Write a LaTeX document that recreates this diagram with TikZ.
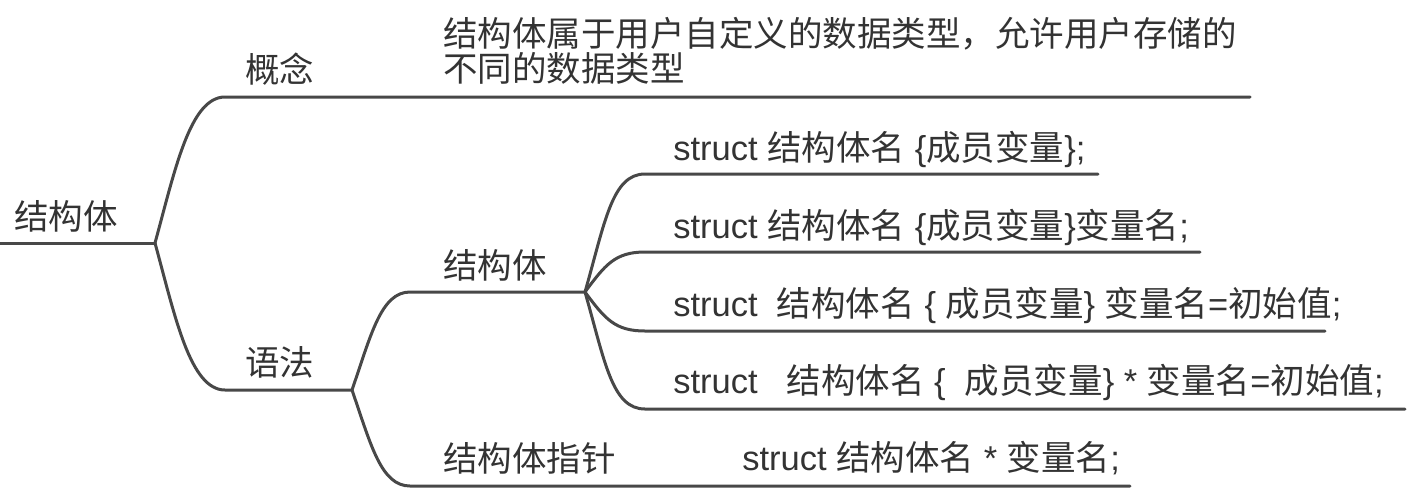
\documentclass[tikz,border=0pt]{standalone}
\usepackage{fontspec}
\setmainfont{Liberation Sans}
\newfontfamily\cjk{Noto Sans CJK SC}
\newcommand\zh[1]{{\cjk #1}}
\definecolor{linec}{RGB}{72,72,72}
\definecolor{textc}{RGB}{51,51,51}
\tikzset{
  branch/.style={draw=linec, line width=1.5pt, line cap=round},
  label/.style={anchor=base west, inner sep=0pt, text=textc, font=\fontsize{17.25}{17.75}\selectfont},
}
\begin{document}
\begin{tikzpicture}[x=0.5pt,y=-0.5pt]
\useasboundingbox (0,0) rectangle (1410,500);
% anchor points of the topics
\coordinate (R0) at (0,243);
\coordinate (R) at (155,243);
\coordinate (Gs) at (225,97);
\coordinate (Ge) at (1250,97);
\coordinate (Ys) at (225,390);
\coordinate (Y) at (352,390);
\coordinate (Js) at (410,292);
\coordinate (J) at (585,292);
\coordinate (Ps) at (410,486);
\coordinate (Pe) at (1130,486);
\coordinate (S1s) at (645,174);
\coordinate (S1e) at (1098,174);
\coordinate (S2s) at (645,252);
\coordinate (S2e) at (1200,252);
\coordinate (S3s) at (645,331);
\coordinate (S3e) at (1325,331);
\coordinate (S4s) at (645,409);
\coordinate (S4e) at (1405,409);

% labels
\node[label] (root) at (14,229.5) {\zh{结构体}};
\node[label] (gn) at (245,82.5) {\zh{概念}};
\node[label, align=left] (def) at (443,81.5) {\zh{结构体属于用户自定义的数据类型，允许用户存储的}\\\zh{不同的数据类型}};
\node[label] (yf) at (245,375) {\zh{语法}};
\node[label] (jgt) at (443,278) {\zh{结构体}};
\node[label] (zz) at (443,471) {\zh{结构体指针}};
\node[label] (s1) at (673,160) {struct \zh{结构体名} \{\zh{成员变量}\};};
\node[label] (s2) at (673,238) {struct \zh{结构体名} \{\zh{成员变量}\}\zh{变量名};};
\node[label] (s3) at (673,316) {struct\ \ \zh{结构体名} \{ \zh{成员变量}\} \zh{变量名}=\zh{初始值};};
\node[label] (s4) at (673,393) {struct\ \ \ \zh{结构体名} \{\ \ \zh{成员变量}\} * \zh{变量名}=\zh{初始值};};
\node[label] (p1) at (742,470) {struct \zh{结构体名} * \zh{变量名};};

% connectors
\draw[branch] (R0) -- (R);
\draw[branch] (R) .. controls (175,170) and (190,97) .. (Gs) -- (Ge);
\draw[branch] (R) .. controls (175,316) and (190,390) .. (Ys) -- (Y);
\draw[branch] (Y) .. controls (371,335) and (381,292) .. (Js) -- (J);
\draw[branch] (Y) .. controls (371,445) and (381,486) .. (Ps) -- (Pe);
\draw[branch] (J) .. controls (605,222) and (612,174) .. (S1s) -- (S1e);
\draw[branch] (J) .. controls (605,265) and (615,252) .. (S2s) -- (S2e);
\draw[branch] (J) .. controls (605,319) and (615,331) .. (S3s) -- (S3e);
\draw[branch] (J) .. controls (605,362) and (612,409) .. (S4s) -- (S4e);
\end{tikzpicture}
\end{document}
